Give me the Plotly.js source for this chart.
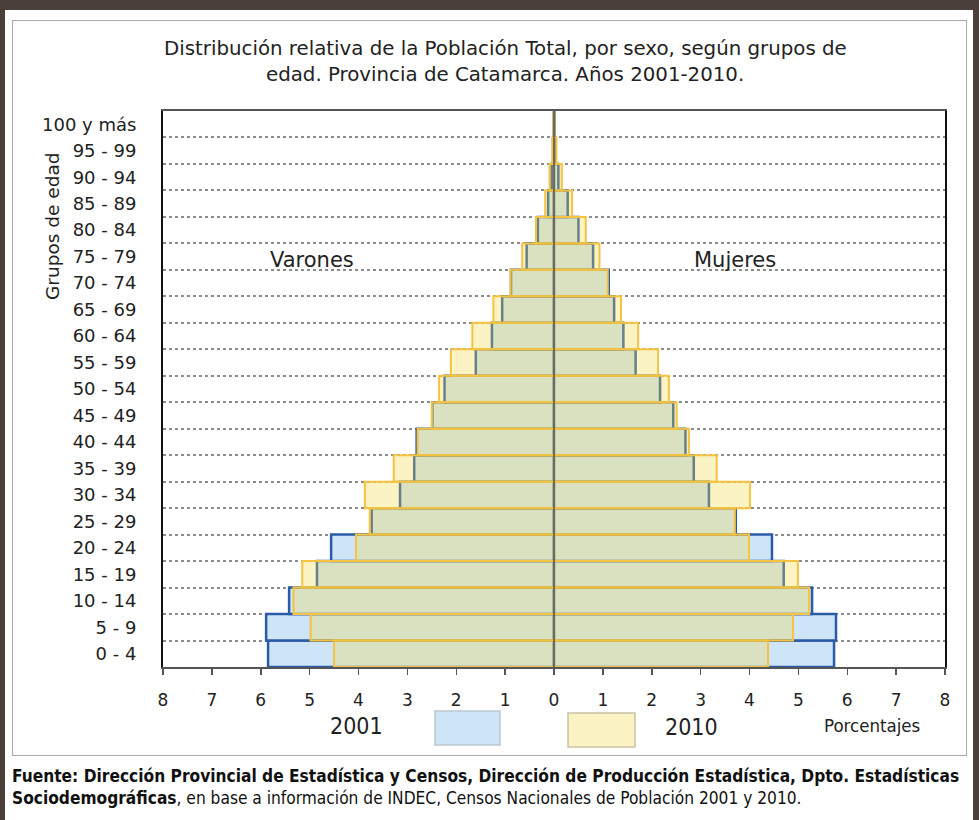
<!DOCTYPE html>
<html>
<head>
<meta charset="utf-8">
<script src="https://cdn.plot.ly/plotly-3.0.1.min.js"></script>
<style>
  html, body { margin:0; padding:0; width:979px; height:820px; background:#4b3f3a; overflow:hidden; }
  #panel { position:absolute; left:5px; top:10px; width:968px; height:810px; background:#ffffff; }
  #frame { position:absolute; left:12px; top:20px; width:953px; height:734px; border:1px solid #a8a8a8; background:#ffffff; }
  #chart { position:absolute; left:0; top:0; width:979px; height:820px; }
</style>
</head>
<body>
<div id="panel"></div>
<div id="frame"></div>
<div id="chart"></div>
<script>
// Age groups (bottom to top)
const ageGroups = ["0 - 4","5 - 9","10 - 14","15 - 19","20 - 24","25 - 29","30 - 34","35 - 39","40 - 44","45 - 49","50 - 54","55 - 59","60 - 64","65 - 69","70 - 74","75 - 79","80 - 84","85 - 89","90 - 94","95 - 99","100 y más"];

// Percentages, Varones (males)
const varones2001 = [5.85, 5.89, 5.42, 4.85, 4.56, 3.73, 3.15, 2.86, 2.81, 2.49, 2.24, 1.60, 1.27, 1.06, 0.88, 0.56, 0.33, 0.12, 0.05, 0.02, 0.00];
const varones2010 = [4.50, 4.98, 5.33, 5.15, 4.05, 3.77, 3.87, 3.28, 2.79, 2.50, 2.35, 2.11, 1.67, 1.24, 0.89, 0.65, 0.37, 0.18, 0.09, 0.03, 0.01];

// Percentages, Mujeres (females)
const mujeres2001 = [5.73, 5.77, 5.28, 4.70, 4.46, 3.72, 3.17, 2.86, 2.69, 2.44, 2.17, 1.67, 1.42, 1.23, 1.12, 0.80, 0.50, 0.28, 0.09, 0.03, 0.01];
const mujeres2010 = [4.38, 4.89, 5.22, 4.99, 3.99, 3.70, 4.01, 3.33, 2.76, 2.51, 2.35, 2.13, 1.72, 1.37, 1.10, 0.93, 0.65, 0.37, 0.16, 0.05, 0.01];

// Axis ticks
const xTickVals = [-8,-7,-6,-5,-4,-3,-2,-1,0,1,2,3,4,5,6,7,8];
const xTickText = ["8","7","6","5","4","3","2","1","0","1","2","3","4","5","6","7","8"];

const FONT = "DejaVu Sans, Verdana, sans-serif";
const COND = "DejaVu Sans Condensed, DejaVu Sans, sans-serif";

const fill2001 = "rgb(206,229,248)";
const line2001 = "#2b5ba7";
const fill2010 = "rgba(245,214,62,0.30)";
const line2010 = "#f5c33f";

function barTrace(vals, sign, fill, line, lw, name) {
  return {
    type: "bar", orientation: "h",
    y: ageGroups,
    x: vals.map(v => sign * v),
    name: name,
    marker: { color: fill, line: { color: line, width: lw } },
    hoverinfo: "skip",
    showlegend: false
  };
}

const data = [
  barTrace(varones2001, -1, fill2001, line2001, 2.5, "Varones 2001"),
  barTrace(mujeres2001, 1, fill2001, line2001, 2.5, "Mujeres 2001"),
  barTrace(varones2010, -1, fill2010, line2010, 2, "Varones 2010"),
  barTrace(mujeres2010, 1, fill2010, line2010, 2, "Mujeres 2010")
];

const W = 979, H = 820, L = 163, R = 34, T = 111, B = 153;
const pw = W - L - R, ph = H - T - B;
const px = x => (x - L) / pw;
const py = y => (H - B - y) / ph;

const layout = {
  width: W, height: H,
  margin: { l: L, r: R, t: T, b: B, pad: 0 },
  paper_bgcolor: "rgba(0,0,0,0)",
  plot_bgcolor: "#ffffff",
  barmode: "overlay",
  bargap: 0,
  showlegend: false,
  font: { family: FONT, size: 18, color: "#222222" },
  xaxis: {
    range: [-8, 8],
    tickmode: "array", tickvals: xTickVals, ticktext: xTickText,
    ticks: "outside", ticklen: 6, tickwidth: 1.5, tickcolor: "#555555",
    ticklabelstandoff: 11,
    showgrid: false, zeroline: false,
    showline: true, linecolor: "#555555", linewidth: 2, mirror: true,
    tickfont: { family: FONT, size: 17, color: "#222222" },
    fixedrange: true
  },
  yaxis: {
    type: "category", categoryorder: "array", categoryarray: ageGroups,
    tickson: "boundaries",
    ticks: "",
    ticklabelstandoff: 21,
    showgrid: true, gridcolor: "#8c8c8c", gridwidth: 2, griddash: "dot",
    zeroline: false,
    showline: true, linecolor: "#111111", linewidth: 2, mirror: true,
    tickfont: { family: FONT, size: 18, color: "#222222" },
    fixedrange: true
  },
  shapes: [
    { type: "line", xref: "x", yref: "paper", x0: 0, x1: 0, y0: 0, y1: 1,
      line: { color: "#6e6c55", width: 2 }, layer: "above" },
    { type: "rect", xref: "paper", yref: "paper", x0: px(435), x1: px(500), y0: py(711), y1: py(745),
      fillcolor: "rgb(206,229,248)", line: { color: "#b9c7d3", width: 1.5 } },
    { type: "rect", xref: "paper", yref: "paper", x0: px(568), x1: px(635), y0: py(713), y1: py(747),
      fillcolor: "rgb(252,243,197)", line: { color: "#c9c3a6", width: 1.5 } }
  ],
  annotations: [
    { text: "Distribución relativa de la Población Total, por sexo, según grupos de",
      xref: "paper", yref: "paper", x: px(505), y: py(48), xanchor: "center", yanchor: "middle",
      showarrow: false, font: { family: FONT, size: 19.8, color: "#222222" } },
    { text: "edad. Provincia de Catamarca. Años 2001-2010.",
      xref: "paper", yref: "paper", x: px(505), y: py(75), xanchor: "center", yanchor: "middle",
      showarrow: false, font: { family: FONT, size: 19.8, color: "#222222" } },
    { text: "Grupos de edad", textangle: -90,
      xref: "paper", yref: "paper", x: px(52), y: py(227), xanchor: "center", yanchor: "middle",
      showarrow: false, font: { family: FONT, size: 18.5, color: "#222222" } },
    { text: "Varones", xref: "paper", yref: "paper", x: px(312), y: py(260), xanchor: "center", yanchor: "middle",
      showarrow: false, font: { family: FONT, size: 21, color: "#222222" } },
    { text: "Mujeres", xref: "paper", yref: "paper", x: px(735), y: py(260), xanchor: "center", yanchor: "middle",
      showarrow: false, font: { family: FONT, size: 21, color: "#222222" } },
    { text: "2001", xref: "paper", yref: "paper", x: px(356), y: py(726), xanchor: "center", yanchor: "middle",
      showarrow: false, font: { family: COND, size: 23, color: "#222222" } },
    { text: "2010", xref: "paper", yref: "paper", x: px(691), y: py(727), xanchor: "center", yanchor: "middle",
      showarrow: false, font: { family: COND, size: 23, color: "#222222" } },
    { text: "Porcentajes", xref: "paper", yref: "paper", x: px(872), y: py(725), xanchor: "center", yanchor: "middle",
      showarrow: false, font: { family: COND, size: 18.5, color: "#222222" } },
    { text: "<b>Fuente: Dirección Provincial de Estadística y Censos, Dirección de Producción Estadística, Dpto. Estadísticas</b>",
      xref: "paper", yref: "paper", x: px(10), y: py(776), xanchor: "left", yanchor: "middle",
      showarrow: false, font: { family: COND, size: 17.2, color: "#111111" } },
    { text: "<b>Sociodemográficas</b>, en base a información de INDEC, Censos Nacionales de Población 2001 y 2010.",
      xref: "paper", yref: "paper", x: px(10), y: py(798), xanchor: "left", yanchor: "middle",
      showarrow: false, font: { family: COND, size: 17.2, color: "#111111" } }
  ]
};

Plotly.newPlot("chart", data, layout, { displayModeBar: false, staticPlot: true });
</script>
</body>
</html>
